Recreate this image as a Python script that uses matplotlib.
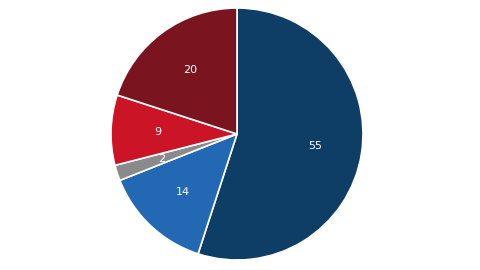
import matplotlib
matplotlib.use('Agg')
from matplotlib import pyplot as plt

values = [55, 14, 2, 9, 20]
labels = ['55', '14', '2', '9', '20']
colors = ['#0e3d66', '#2368b2', '#8a8a8a', '#cb1425', '#7a1520']

fig = plt.figure(figsize=(4.8, 2.7), dpi=100)
ax = fig.add_axes([(237 - 126) / 480, 10 / 270, 252 / 480, 252 / 270])

wedges, texts = ax.pie(values, colors=colors, startangle=90, counterclock=False,
                       radius=1, labels=labels, labeldistance=0.63,
                       wedgeprops=dict(edgecolor='white', linewidth=1.2))
for t in texts:
    t.set_color('white')
    t.set_fontsize(8)
    t.set_ha('center')
    t.set_va('center')

ax.set_xlim(-1, 1)
ax.set_ylim(-1, 1)
ax.set_aspect('equal')
ax.axis('off')

fig.savefig('out.png', dpi=100)
